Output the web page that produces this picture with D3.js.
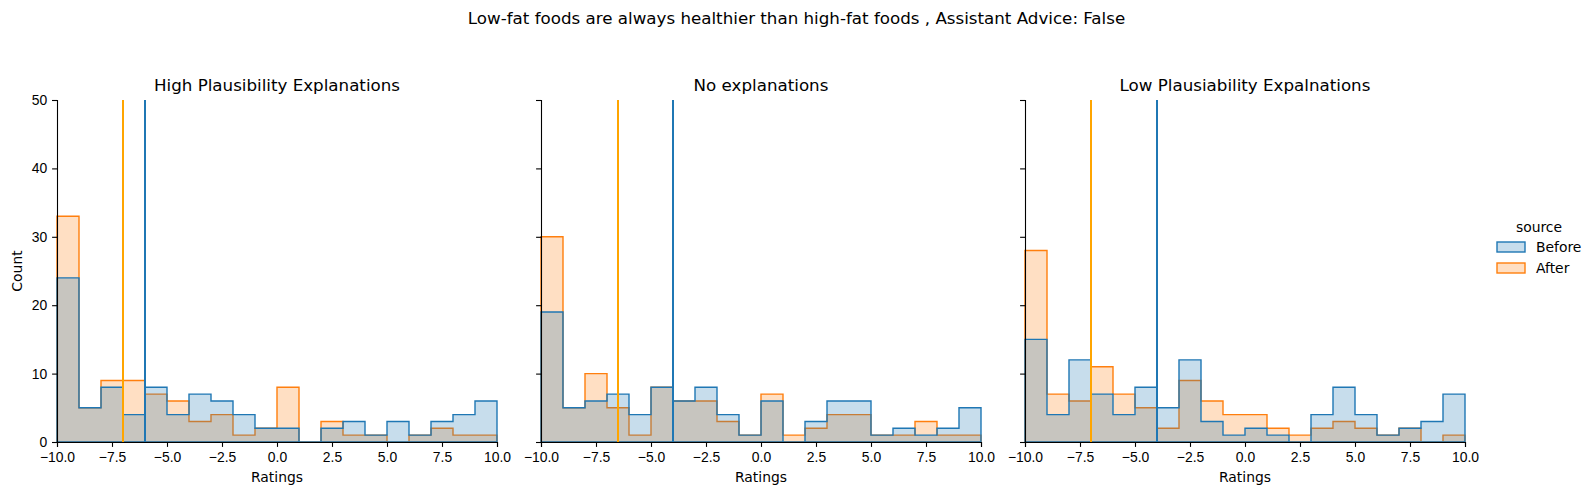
<!DOCTYPE html>
<html>
<head>
<meta charset="utf-8">
<script src="https://cdn.jsdelivr.net/npm/d3@7"></script>
<style>
  body { margin: 0; background: #fff; }
  svg { font-family: "DejaVu Sans", sans-serif; }
  .tick text { font-size: 13.9px; fill: #000; }
  .domain, .tick line { stroke: #000; stroke-width: 1.1px; }
</style>
</head>
<body>
<svg id="chart" width="1593" height="495"></svg>
<script>
// data: counts per bin (bins of width 1 from -10 to 10)
var panelTitles = ['High Plausibility Explanations', 'No explanations', 'Low Plausiability Expalnations']
var sources = ['Before', 'After']
var beforeCounts = [
  [24, 5, 8, 4, 8, 4, 7, 6, 4, 2, 2, 0, 2, 3, 1, 3, 1, 3, 4, 6],
  [19, 5, 6, 7, 4, 8, 6, 8, 4, 1, 6, 0, 3, 6, 6, 1, 2, 1, 2, 5],
  [15, 4, 12, 7, 4, 8, 5, 12, 3, 1, 2, 1, 0, 4, 8, 4, 1, 2, 3, 7]
]
var afterCounts = [
  [33, 5, 9, 9, 7, 6, 3, 4, 1, 2, 8, 0, 3, 1, 1, 0, 1, 2, 1, 1],
  [30, 5, 10, 5, 1, 8, 6, 6, 3, 1, 7, 1, 2, 4, 4, 1, 1, 3, 1, 1],
  [28, 7, 6, 11, 7, 5, 2, 9, 6, 4, 4, 2, 1, 2, 3, 2, 1, 2, 0, 1]
]
var beforeMeans = [-6.0, -4.0, -4.0]
var afterMeans = [-7.0, -6.5, -7.0]
var binStart = -10, binWidth = 1
var xTicks = [-10, -7.5, -5, -2.5, 0, 2.5, 5, 7.5, 10]
var yTicks = [0, 10, 20, 30, 40, 50]
var suptitle = 'Low-fat foods are always healthier than high-fat foods , Assistant Advice: False'

// layout
var panelW = 440, panelH = 342, plotTop = 100
var panelLeft = [57, 541, 1025]

var colorHist = d3.scaleOrdinal().domain(sources).range(['#1f77b4', '#ff7f0e'])
var colorMean = d3.scaleOrdinal().domain(sources).range(['#1f77b4', '#ffa500'])

var x = d3.scaleLinear().domain([-10, 10]).range([0, panelW])
var y = d3.scaleLinear().domain([0, 50]).range([panelH, 0])

var svg = d3.select('#chart')

svg.append('text')
  .attr('x', 796.5).attr('y', 24)
  .attr('text-anchor', 'middle')
  .style('font-size', '16.7px')
  .text(suptitle)

// step outline of a histogram as a closed polygon
function stepPoints(counts){
  var pts = [[binStart, 0]]
  counts.forEach(function(c, i){
    pts.push([binStart + i * binWidth, c])
    pts.push([binStart + (i + 1) * binWidth, c])
  })
  pts.push([binStart + counts.length * binWidth, 0])
  return pts
}
var stepLine = d3.line()
  .x(function(d){ return x(d[0]) })
  .y(function(d){ return y(d[1]) })

panelTitles.forEach(function(title, p){
  var g = svg.append('g').attr('transform', 'translate(' + panelLeft[p] + ',' + plotTop + ')')

  // After drawn first, Before layered on top (as seaborn does)
  var layers = [
    {key: 'After', counts: afterCounts[p]},
    {key: 'Before', counts: beforeCounts[p]}
  ]
  layers.forEach(function(l){
    g.append('path')
      .attr('d', stepLine(stepPoints(l.counts)) + 'Z')
      .attr('fill', colorHist(l.key))
      .attr('fill-opacity', 0.25)
      .attr('stroke', colorHist(l.key))
      .attr('stroke-width', 1.4)
      .attr('stroke-linejoin', 'miter')
  })

  // mean lines
  var means = [{key: 'After', v: afterMeans[p]}, {key: 'Before', v: beforeMeans[p]}]
  means.forEach(function(m){
    g.append('line')
      .attr('x1', x(m.v)).attr('x2', x(m.v))
      .attr('y1', y(0)).attr('y2', y(50))
      .attr('stroke', colorMean(m.key))
      .attr('stroke-width', 2)
  })

  g.append('g')
    .attr('transform', 'translate(0,' + panelH + ')')
    .call(d3.axisBottom(x).tickValues(xTicks).tickFormat(d3.format('.1f')).tickSizeOuter(0).tickSize(4.9).tickPadding(4.9))

  var yAxis = d3.axisLeft(y).tickValues(yTicks).tickSizeOuter(0).tickSize(4.9).tickPadding(4.9)
  if (p > 0) yAxis.tickFormat('')
  g.append('g').call(yAxis)

  g.append('text')
    .attr('x', panelW / 2).attr('y', -9)
    .attr('text-anchor', 'middle')
    .style('font-size', '16.7px')
    .text(title)

  g.append('text')
    .attr('x', panelW / 2).attr('y', panelH + 40)
    .attr('text-anchor', 'middle')
    .style('font-size', '13.9px')
    .text('Ratings')

  if (p == 0) {
    g.append('text')
      .attr('transform', 'translate(-35,' + (panelH / 2) + ') rotate(-90)')
      .attr('text-anchor', 'middle')
      .style('font-size', '13.9px')
      .text('Count')
  }
})

// legend
var legend = svg.append('g').attr('transform', 'translate(1497,0)')
legend.append('text')
  .attr('x', 42).attr('y', 232)
  .attr('text-anchor', 'middle')
  .style('font-size', '13.9px')
  .text('source')
sources.forEach(function(s, i){
  var cy = 247 + i * 21
  legend.append('rect')
    .attr('x', 0).attr('y', cy - 5)
    .attr('width', 28).attr('height', 10)
    .attr('fill', colorHist(s)).attr('fill-opacity', 0.25)
    .attr('stroke', colorHist(s)).attr('stroke-width', 1.4)
  legend.append('text')
    .attr('x', 39).attr('y', cy + 5)
    .style('font-size', '13.9px')
    .text(s)
})
</script>
</body>
</html>
